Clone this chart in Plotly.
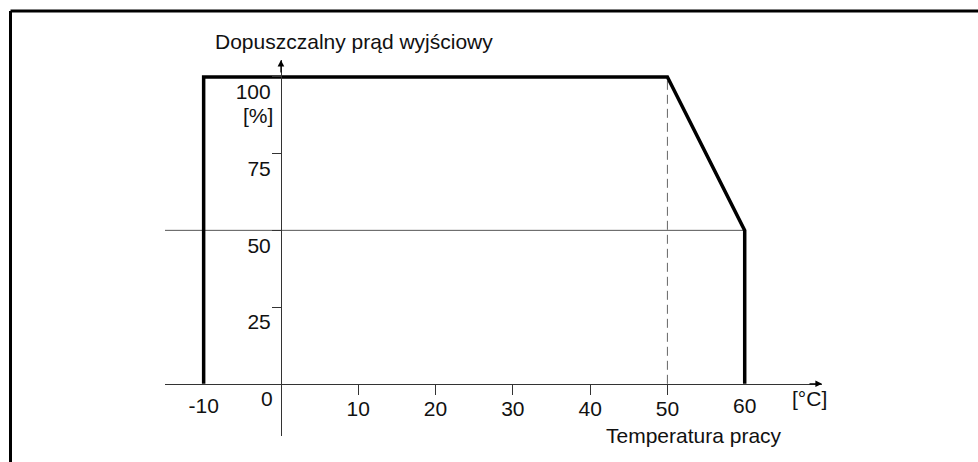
import plotly.graph_objects as go

# Data
curve_x = [-10, -10, 50, 60, 60]
curve_y = [0, 100, 100, 50, 0]
ref50_x = [-15, 60]
ref50_y = [50, 50]
dash_x = [50, 50]
dash_y = [0, 100]

x_tick_vals = [10, 20, 30, 40, 50]
x_tick_text = ["10", "20", "30", "40", "50"]
x_edge_vals = [-10, 60]
x_edge_text = ["-10", "60"]
y_tick_vals = [25, 50, 75, 100]
y_tick_text = ["25", "50", "75", "100"]

FONT = "Liberation Sans, Arial, sans-serif"
FS = 21
TXT = "#111111"
AX = "#333333"

XR = [-15, 70]
YR = [-17, 105.5]
xpos = (0 - XR[0]) / (XR[1] - XR[0])
ypos = (0 - YR[0]) / (YR[1] - YR[0])

W, H = 978, 462
ML, MR, MT, MB = 165, 156, 60, 26
pw = W - ML - MR
ph = H - MT - MB


def px2paper_x(px):
    return (px - ML) / pw


def py2paper_y(py):
    return (H - MB - py) / ph


fig = go.Figure()
fig.add_trace(go.Scatter(x=ref50_x, y=ref50_y, mode="lines",
                         line=dict(color="#555555", width=1), hoverinfo="skip"))
fig.add_trace(go.Scatter(x=dash_x, y=dash_y, mode="lines",
                         line=dict(color="#666666", width=1, dash="9px,5px"), hoverinfo="skip"))
fig.add_trace(go.Scatter(x=curve_x, y=curve_y, mode="lines",
                         line=dict(color="black", width=3.5), hoverinfo="skip"))
fig.add_trace(go.Scatter(x=[XR[0]], y=[YR[0]], xaxis="x2", mode="markers",
                         marker=dict(opacity=0), hoverinfo="skip"))

fig.update_layout(
    width=W, height=H,
    margin=dict(l=ML, r=MR, t=MT, b=MB),
    paper_bgcolor="white", plot_bgcolor="white",
    showlegend=False,
    font=dict(family=FONT, size=FS, color=TXT),
    xaxis=dict(range=XR, anchor="free", position=ypos, showgrid=False, zeroline=False,
               showline=True, linecolor=AX, linewidth=1,
               tickmode="array", tickvals=x_tick_vals, ticktext=x_tick_text,
               ticks="outside", ticklen=10, tickcolor=AX, tickwidth=1,
               tickfont=dict(family=FONT, size=FS, color=TXT),
               ticklabelstandoff=-4),
    xaxis2=dict(range=XR, overlaying="x", anchor="free", position=ypos, side="bottom",
                showgrid=False, zeroline=False, showline=False,
                tickmode="array", tickvals=x_edge_vals, ticktext=x_edge_text,
                ticks="", tickfont=dict(family=FONT, size=FS, color=TXT),
                ticklabelstandoff=7),
    yaxis=dict(range=YR, anchor="free", position=xpos, showgrid=False, zeroline=False,
               showline=True, linecolor=AX, linewidth=1,
               tickmode="array", tickvals=y_tick_vals, ticktext=y_tick_text,
               ticks="outside", ticklen=9, tickcolor=AX, tickwidth=1,
               tickfont=dict(family=FONT, size=FS, color=TXT),
               ticklabelshift=15, ticklabelstandoff=-3),
)

ann = []
ann.append(dict(x=70, y=0, xref="x", yref="y", text="", showarrow=True,
                ax=-14, ay=0, arrowhead=2, arrowsize=1.1, arrowwidth=1.2, arrowcolor="black"))
ann.append(dict(x=0, y=105.5, xref="x", yref="y", text="", showarrow=True,
                ax=0, ay=14, arrowhead=2, arrowsize=1.1, arrowwidth=1.2, arrowcolor="black"))
ann.append(dict(x=0, y=0, xref="x", yref="y", text="0", showarrow=False,
                xanchor="right", yanchor="middle", xshift=-6, yshift=-15))
ann.append(dict(x=0, y=87.5, xref="x", yref="y", text="[%]", showarrow=False,
                xanchor="right", yanchor="middle", xshift=-6))
ann.append(dict(x=68.4, y=0, xref="x", yref="y", text="[°C]", showarrow=False,
                xanchor="center", yanchor="middle", yshift=-15))
ann.append(dict(x=53.4, y=-16.8, xref="x", yref="y", text="Temperatura pracy", showarrow=False,
                xanchor="center", yanchor="middle"))
ann.append(dict(x=px2paper_x(213), y=py2paper_y(41), xref="paper", yref="paper",
                text="Dopuszczalny prąd wyjściowy",
                showarrow=False, xanchor="left", yanchor="middle"))
fig.update_layout(annotations=ann)

fx = px2paper_x(10.5)
fy = py2paper_y(11)
fig.add_shape(type="line", xref="paper", yref="paper", x0=fx, y0=fy, x1=2.0, y1=fy,
              line=dict(color="black", width=3))
fig.add_shape(type="line", xref="paper", yref="paper", x0=fx, y0=fy, x1=fx, y1=-0.5,
              line=dict(color="black", width=3))

fig.write_html("out.html", config={"displayModeBar": False},
               post_script="document.body.style.margin='0';document.body.style.overflow='hidden';")
